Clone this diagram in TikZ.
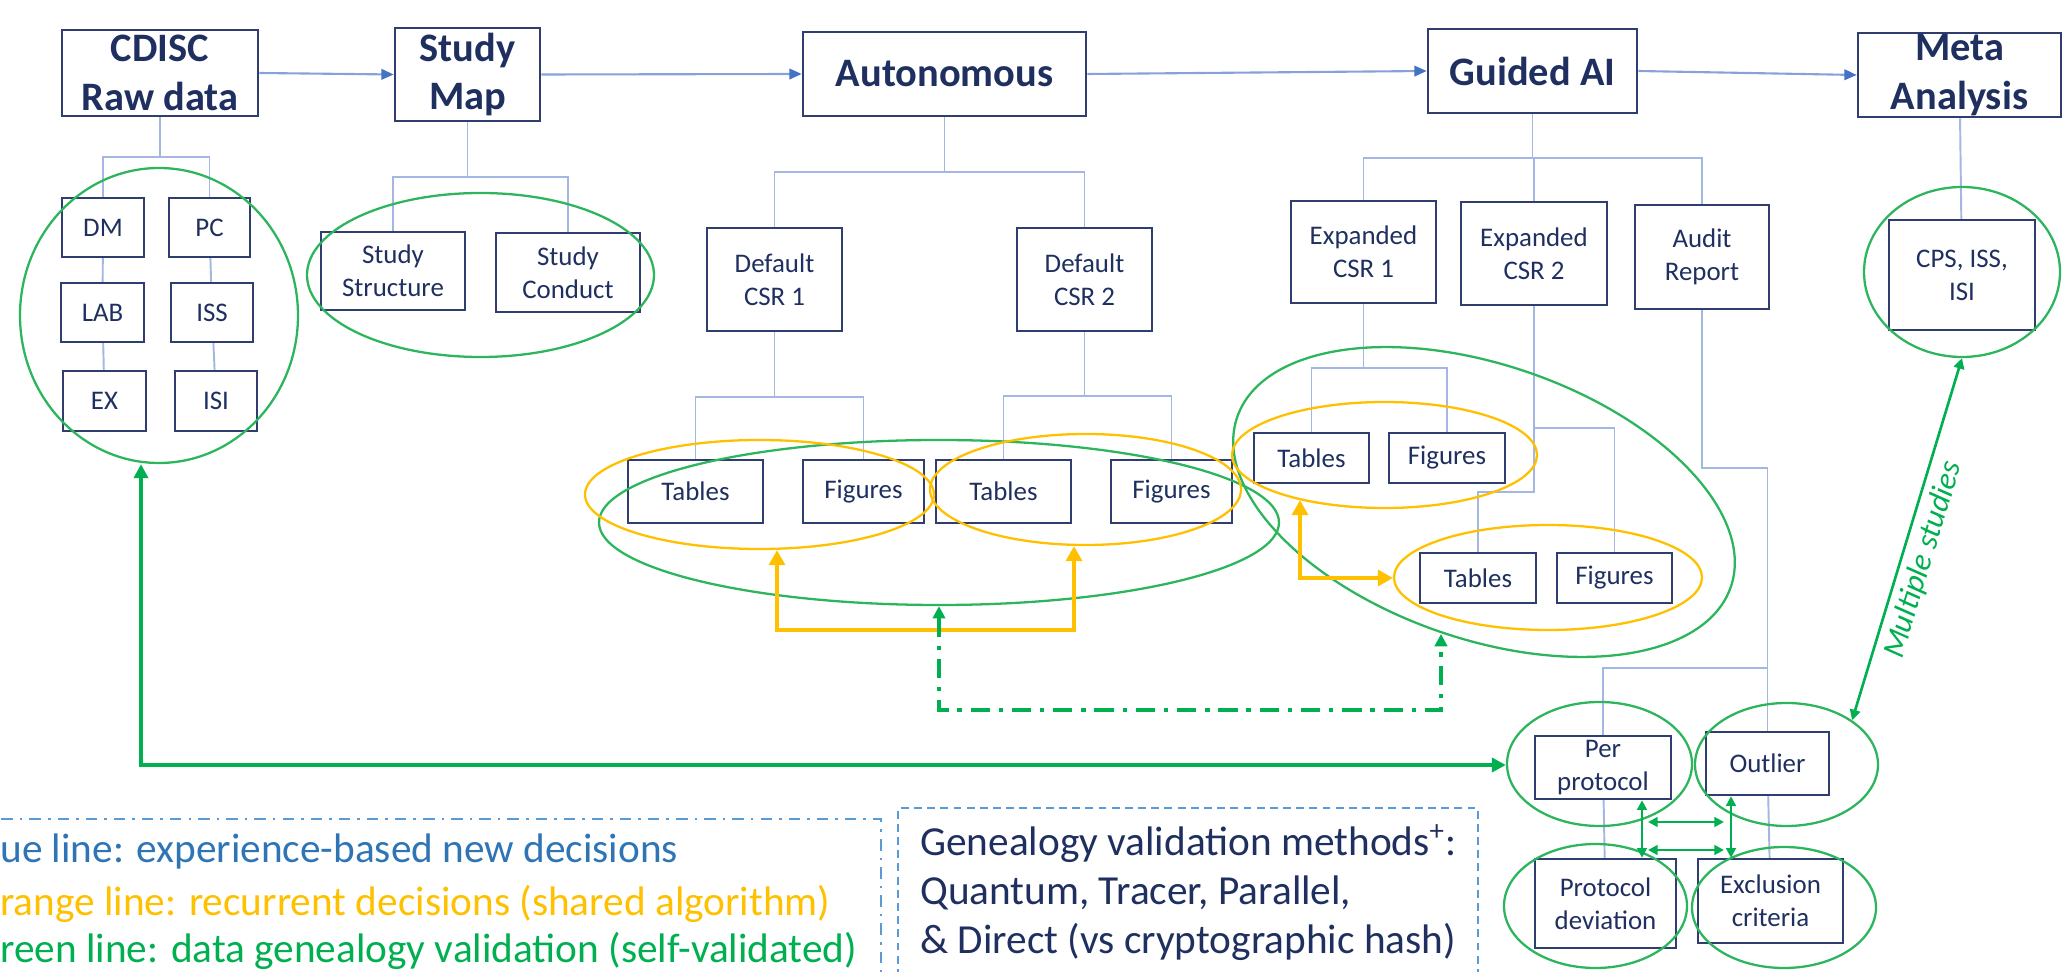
\documentclass[tikz,border=0pt]{standalone}
\usepackage{fontspec}
\setmainfont{Carlito}
\usetikzlibrary{positioning,calc,arrows.meta,shapes.geometric}

\definecolor{boxblue}{HTML}{2F3E6E}
\definecolor{navy}{HTML}{1F3060}
\definecolor{treeblue}{HTML}{A3B7E2}
\definecolor{arrblue}{HTML}{4472C4}
\definecolor{ggreen}{HTML}{00B050}
\definecolor{egreen}{HTML}{2DB55D}
\definecolor{gold}{HTML}{FFC000}
\definecolor{legblue}{HTML}{2E75B6}
\definecolor{legframe}{HTML}{5B9BD5}

\tikzset{
	topbox/.style={draw=boxblue, line width=1.5pt, inner sep=0pt, align=center, text=navy,
		font=\fontsize{23}{27.8}\selectfont\bfseries},
	sbox/.style 2 args={draw=boxblue, line width=1.4pt, inner sep=0pt, align=center, text=navy,
		font=\fontsize{15.3}{18.7}\selectfont, minimum width=#1cm, minimum height=#2cm},
	tree/.style={draw=treeblue, line width=1.1pt},
	flow/.style={draw=treeblue!70!arrblue, line width=1.2pt, -{Triangle[color=arrblue, length=7pt, width=6pt]}},
	gring/.style={ellipse, draw=egreen, line width=1.3pt, inner sep=0pt},
	oring/.style={ellipse, draw=gold, line width=1.3pt, inner sep=0pt},
	obig/.style={draw=gold, line width=2.8pt, {Triangle[length=8.5pt, width=9pt]}-{Triangle[length=8.5pt, width=9pt]}},
	gbig/.style={draw=ggreen, line width=2.4pt, {Triangle[length=8pt, width=8pt]}-{Triangle[length=8pt, width=8pt]}},
	gdash/.style={draw=ggreen, line width=2.1pt, dash pattern=on 11pt off 5pt on 2.5pt off 5pt,
		{Triangle[length=7pt, width=7pt]}-{Triangle[length=7pt, width=7pt]}},
	gsmall/.style={draw=ggreen, line width=1.6pt, {Triangle[length=5.5pt, width=5.5pt]}-{Triangle[length=5.5pt, width=5.5pt]}},
	legtext/.style={inner sep=0pt, anchor=base west, font=\fontsize{23.5}{27.8}\selectfont},
}

\begin{document}
\begin{tikzpicture}
	\useasboundingbox (0,0) rectangle (41.24,-19.44);
	\begin{scope}
		\node[topbox, minimum width=3.92cm, minimum height=1.72cm] (cdisc) at (3.20,-1.46) {CDISC\\Raw data};
		\node[topbox, minimum width=2.90cm, minimum height=1.86cm] (smap) at (9.35,-1.49) {Study\\Map};
		\node[topbox, minimum width=5.66cm, minimum height=1.68cm] (auto) at (18.89,-1.48) {Autonomous};
		\node[topbox, minimum width=4.18cm, minimum height=1.68cm] (gai) at (30.65,-1.42) {Guided AI};
		\node[topbox, minimum width=4.06cm, minimum height=1.68cm] (meta) at (39.19,-1.50) {Meta\\Analysis};

		\node[sbox={1.64}{1.18}] (dm) at (2.06,-4.55) {DM};
		\node[sbox={1.62}{1.18}] (pc) at (4.19,-4.55) {PC};
		\node[sbox={1.66}{1.18}] (lab) at (2.05,-6.25) {LAB};
		\node[sbox={1.64}{1.18}] (iss) at (4.24,-6.25) {ISS};
		\node[sbox={1.66}{1.20}] (ex) at (2.09,-8.02) {EX};
		\node[sbox={1.64}{1.20}] (isi) at (4.32,-8.02) {ISI};

		\node[sbox={2.88}{1.56}] (sstr) at (7.86,-5.42) {Study\\Structure};
		\node[sbox={2.88}{1.58}] (scon) at (11.36,-5.45) {Study\\Conduct};

		\node[sbox={2.70}{2.06}] (csra) at (15.49,-5.59) {Default\\CSR 1};
		\node[sbox={2.70}{2.06}] (csrb) at (21.69,-5.59) {Default\\CSR 2};
		\node[sbox={2.70}{1.26}] (taba) at (13.91,-9.83) {Tables};
		\node[sbox={2.42}{1.26}] (figa) at (17.27,-9.83) {Figures};
		\node[sbox={2.70}{1.26}] (tabb) at (20.07,-9.83) {Tables};
		\node[sbox={2.42}{1.26}] (figb) at (23.43,-9.83) {Figures};

		\node[sbox={2.90}{2.04}] (ecsra) at (27.27,-5.04) {Expanded\\CSR 1};
		\node[sbox={2.92}{2.06}] (ecsrb) at (30.68,-5.07) {Expanded\\CSR 2};
		\node[sbox={2.68}{2.08}] (audit) at (34.04,-5.14) {Audit\\Report};
		\node[sbox={2.30}{1.00}] (gtaba) at (26.23,-9.16) {Tables};
		\node[sbox={2.32}{1.00}] (gfiga) at (28.94,-9.16) {Figures};
		\node[sbox={2.32}{1.00}] (gtabb) at (29.56,-11.56) {Tables};
		\node[sbox={2.30}{1.00}] (gfigb) at (32.29,-11.56) {Figures};

		\node[sbox={2.92}{2.20}] (cps) at (39.24,-5.50) {CPS, ISS,\\ISI};

		\node[sbox={2.72}{1.26}] (perp) at (32.06,-15.35) {Per\\protocol};
		\node[sbox={2.46}{1.26}] (outl) at (35.35,-15.27) {Outlier};
		\node[sbox={2.82}{1.78}] (pdev) at (32.11,-18.07) {Protocol\\deviation};
		\node[sbox={2.90}{1.68}] (excl) at (35.41,-18.02) {Exclusion\\criteria};

		\draw[flow] (cdisc.east) -- (smap.west);
		\draw[flow] (smap.east) -- (auto.west);
		\draw[flow] (auto.east) -- (gai.west);
		\draw[flow] (gai.east) -- (meta.west);

		\coordinate (rawbus) at (0,-3.14);
		\coordinate (mapbus) at (0,-3.54);
		\coordinate (autobus) at (0,-3.44);
		\coordinate (csrabus) at (0,-7.94);
		\coordinate (csrbbus) at (0,-7.92);
		\coordinate (gaibus) at (0,-3.16);
		\coordinate (ecsrabus) at (0,-7.36);
		\coordinate (ecsrbbus) at (0,-8.56);
		\coordinate (ecsrbbus2) at (0,-9.84);
		\coordinate (auditbus) at (0,-9.36);
		\coordinate (auditbus2) at (0,-13.36);

		\draw[tree] (cdisc.south) -- (cdisc.south |- rawbus);
		\foreach \n in {dm,pc} \draw[tree] (\n.north) |- (cdisc.south |- rawbus);
		\draw[tree] (dm) -- (lab);
		\draw[tree] (lab) -- (ex);
		\draw[tree] (pc) -- (iss);
		\draw[tree] (iss) -- (isi);

		\draw[tree] (smap.south) -- (smap.south |- mapbus);
		\foreach \n in {sstr,scon} \draw[tree] (\n.north) |- (smap.south |- mapbus);

		\draw[tree] (auto.south) -- (auto.south |- autobus);
		\foreach \n in {csra,csrb} \draw[tree] (\n.north) |- (auto.south |- autobus);
		\draw[tree] (csra.south) -- (csra.south |- csrabus);
		\foreach \n in {taba,figa} \draw[tree] (\n.north) |- (csra.south |- csrabus);
		\draw[tree] (csrb.south) -- (csrb.south |- csrbbus);
		\foreach \n in {tabb,figb} \draw[tree] (\n.north) |- (csrb.south |- csrbbus);

		\draw[tree] (gai.south) -- (gai.south |- gaibus);
		\foreach \n in {ecsra,ecsrb,audit} \draw[tree] (\n.north) |- (gai.south |- gaibus);
		\draw[tree] (ecsra.south) -- (ecsra.south |- ecsrabus);
		\foreach \n in {gtaba,gfiga} \draw[tree] (\n.north) |- (ecsra.south |- ecsrabus);
		\draw[tree] (ecsrb.south) -- (ecsrb.south |- ecsrbbus2) -| (gtabb.north);
		\draw[tree] (ecsrb.south |- ecsrbbus) -| (gfigb.north);

		\draw[tree] (audit.south) -- (audit.south |- auditbus) -| (outl.north);
		\draw[tree] (outl.north |- auditbus2) -| (perp.north);
		\draw[tree] (perp) -- (pdev);
		\draw[tree] (outl) -- (excl);
		\draw[tree] (meta) -- (cps);

		\node[gring, minimum width=5.56cm, minimum height=5.90cm] (eraw) at (3.18,-6.31) {};
		\node[gring, minimum width=6.94cm, minimum height=3.28cm] (emap) at (9.61,-5.50) {};
		\node[gring, minimum width=13.60cm, minimum height=3.30cm] (eauto) at (18.78,-10.45) {};
		\node[gring, minimum width=10.44cm, minimum height=5.48cm, rotate=-19] (egai) at (29.68,-10.04) {};
		\node[gring, minimum width=3.92cm, minimum height=3.40cm] (ecps) at (39.24,-5.44) {};
		\node[gring, minimum width=3.70cm, minimum height=2.48cm] (eperp) at (31.99,-15.28) {};
		\node[gring, minimum width=3.66cm, minimum height=2.46cm] (eoutl) at (35.73,-15.29) {};
		\node[gring, minimum width=3.66cm, minimum height=2.48cm] (epdev) at (31.91,-18.12) {};
		\node[gring, minimum width=3.68cm, minimum height=2.42cm] (eexcl) at (35.68,-18.15) {};

		\node[oring, minimum width=6.98cm, minimum height=2.18cm] (otfa) at (15.19,-9.89) {};
		\node[oring, minimum width=6.22cm, minimum height=2.22cm] (otfb) at (21.71,-9.79) {};
		\node[oring, minimum width=6.10cm, minimum height=2.12cm] (oga) at (27.69,-9.10) {};
		\node[oring, minimum width=6.16cm, minimum height=2.10cm] (ogb) at (30.96,-11.55) {};

		\coordinate (oba) at (15.54,-12.60);
		\coordinate (obb) at (21.48,-12.60);
		\draw[obig] (oba |- otfa.south) -- (oba) -- (obb) -- (obb |- otfb.south);
		\coordinate (og) at (26.00,-11.56);
		\draw[obig] (og |- oga.208) -- (og) -- (og -| ogb.west);

		\coordinate (dda) at (18.78,-14.20);
		\coordinate (ddb) at (28.82,-14.20);
		\coordinate (gtip) at (28.82,-12.68);
		\draw[gdash] (eauto.south) -- (dda) -- (ddb) -- (gtip);

		\coordinate (gc) at (2.82,-15.30);
		\draw[gbig] (gc |- eraw.south) -- (gc) -- (gc -| eperp.west);

		\draw[draw=ggreen, line width=1.5pt, {Triangle[length=6pt, width=6pt]}-{Triangle[length=6pt, width=6pt]}]
			(eoutl.34) -- (ecps.south)
			node[pos=0.46, sloped, below=4pt, inner sep=0pt, text=ggreen, font=\fontsize{18}{21}\selectfont\itshape] (mstud) {Multiple studies};

		\coordinate (vl) at (32.84,0);
		\coordinate (vr) at (34.62,0);
		\draw[gsmall] (perp.south -| vl) -- (pdev.north -| vl);
		\draw[gsmall] (outl.south -| vr) -- (excl.north -| vr);
		\coordinate (hla) at (32.96,-16.44);
		\coordinate (hra) at (34.48,-16.44);
		\coordinate (hlb) at (32.96,-17.00);
		\coordinate (hrb) at (34.48,-17.00);
		\draw[gsmall] (hla) -- (hra);
		\draw[gsmall] (hlb) -- (hrb);

		\draw[draw=legframe, line width=1.3pt, dash pattern=on 6.5pt off 4pt on 1.5pt off 4pt] (-1.2,-16.38) rectangle (17.62,-20.5);
		\node[legtext, text=legblue] (lblue) at (0,-17.24) {ue line: experience-based new decisions};
		\node[legtext, text=gold] (lgold) at (0,-18.30) {range line: recurrent decisions (shared algorithm)};
		\node[legtext, text=ggreen] (lgreen) at (0,-19.24) {reen line: data genealogy validation (self-validated)};

		\node[draw=legframe, line width=1.3pt, dash pattern=on 4.5pt off 3pt, anchor=north west, align=left,
			minimum width=11.6cm, inner xsep=0pt, inner ysep=0.32cm, text=navy, font=\fontsize{23.5}{27.8}\selectfont]
			(genea) at (17.94,-16.14) {Genealogy validation methods\textsuperscript{+}:\\Quantum, Tracer, Parallel,\\\& Direct (vs cryptographic hash)};
	\end{scope}
\end{tikzpicture}
\end{document}
